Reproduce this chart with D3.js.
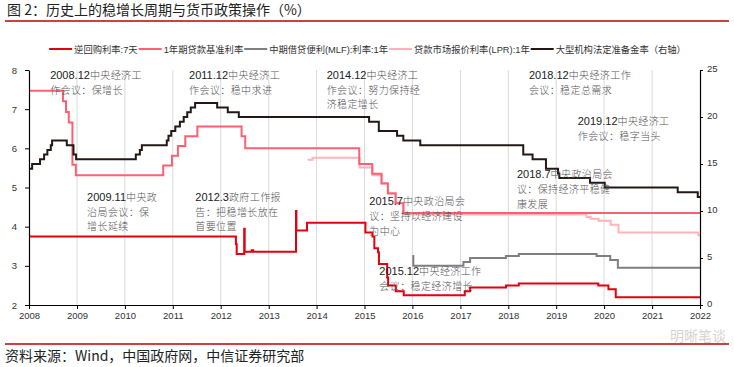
<!DOCTYPE html>
<html><head><meta charset="utf-8">
<script src="https://cdn.jsdelivr.net/npm/d3@7"></script>
<style>body{margin:0;background:#fff}svg{display:block}</style>
</head><body>
<svg id="c" width="734" height="367"></svg>
<script>
// ---------------- data ----------------
const yearTicks = ["2008","2009","2010","2011","2012","2013","2014","2015","2016","2017","2018","2019","2020","2021","2022"];
const leftTicks = [2,3,4,5,6,7,8];
const rightTicks = [0,5,10,15,20,25];

const seriesNames = ["逆回购利率:7天","1年期贷款基准利率","中期借贷便利(MLF):利率:1年","贷款市场报价利率(LPR):1年","大型机构法定准备金率（右轴）"];

const repoDates = ["2008-01-01","2012-04-26","2012-05-02","2012-06-28","2012-07-02","2012-08-24","2012-09-05","2013-07-28","2013-07-31","2013-10-20",
  "2015-01-08","2015-03-03","2015-03-17","2015-04-14","2015-04-21","2015-06-23","2015-06-30","2015-08-27","2015-10-27",
  "2017-02-03","2017-03-16","2017-12-14","2018-03-22","2019-11-18","2020-02-03","2020-03-30","2022-01-01"];
const repoRates = [3.75,3.55,3.30,3.95,3.36,3.40,3.36,4.40,3.90,4.10,
  3.85,3.75,3.45,3.35,3.05,2.70,2.50,2.35,2.25,
  2.35,2.45,2.50,2.55,2.50,2.40,2.20,2.20];

const loanDates = ["2008-01-01","2008-09-16","2008-10-09","2008-10-30","2008-11-27","2008-12-23","2010-10-20","2010-12-26","2011-02-09","2011-04-06","2011-07-07",
  "2012-06-08","2012-07-06","2014-11-22","2015-03-01","2015-05-11","2015-06-28","2015-08-26","2015-10-24","2022-01-01"];
const loanRates = [7.47,7.20,6.93,6.66,5.58,5.31,5.56,5.81,6.06,6.31,6.56,
  6.31,6.00,5.60,5.35,5.10,4.85,4.60,4.35,4.35];

const mlfDates = ["2016-01-01","2016-01-08","2017-01-24","2017-03-16","2017-12-14","2018-03-22","2019-11-05","2020-02-17","2020-04-15","2022-01-01"];
const mlfRates = [3.25,3.00,3.10,3.20,3.25,3.30,3.25,3.15,2.95,2.95];

const lprDates = ["2013-10-25","2013-12-01","2014-11-24","2015-03-02","2015-05-11","2015-06-29","2015-08-26","2015-10-26",
  "2019-08-20","2019-09-20","2019-11-20","2020-02-20","2020-04-20","2021-12-20","2022-01-01"];
const lprRates = [5.71,5.76,5.51,5.31,5.11,4.86,4.61,4.31,
  4.25,4.20,4.15,4.05,3.85,3.78,3.78];

const rrrDates = ["2008-01-01","2008-01-25","2008-03-25","2008-04-25","2008-05-20","2008-06-15","2008-06-25","2008-10-15","2008-12-05","2008-12-25",
  "2010-03-25","2010-04-25","2010-05-10","2010-11-16","2010-11-29","2010-12-20","2011-01-20","2011-02-24","2011-03-25","2011-04-21","2011-05-18","2011-06-20",
  "2011-12-05","2012-02-24","2012-05-18","2015-02-05","2015-04-20","2015-09-06","2015-10-24","2016-03-01",
  "2018-04-25","2018-07-05","2018-10-15","2019-01-15","2019-01-25","2019-09-16","2020-01-06","2021-07-15","2021-12-15","2022-01-01"];
const rrrRates = [14.5,15.0,15.5,16.0,16.5,17.0,17.5,17.0,16.0,15.5,
  16.0,16.5,17.0,17.5,18.0,18.5,19.0,19.5,20.0,20.5,21.0,21.5,
  21.0,20.5,20.0,19.5,18.5,18.0,17.5,17.0,
  16.0,15.5,14.5,14.0,13.5,13.0,12.5,12.0,11.5,11.5];

// annotation texts, anchored in data coordinates [year fraction, left-axis value]
const noteTexts = [
  ["2008.12中央经济工","作会议：保增长"],
  ["2011.12中央经济工","作会议：稳中求进"],
  ["2014.12中央经济工","作会议：努力保持经","济稳定增长"],
  ["2018.12中央经济工作","会议：稳定总需求"],
  ["2019.12中央经济工","作会议：稳字当头"],
  ["2009.11中央政","治局会议：保","增长延续"],
  ["2012.3政府工作报","告：把稳增长放在","首要位置"],
  ["2018.7中央政治局会","议：保持经济平稳健","康发展"],
  ["2015.7中央政治局会","议：坚持以经济建设","为中心"],
  ["2015.12中央经济工作","会议：稳定经济增长"]
];
const noteAnchors = [[2008.44,7.77],[2011.34,7.77],[2014.21,7.77],[2018.43,7.77],[2019.45,6.60],
  [2009.21,4.66],[2011.47,4.66],[2018.18,5.24],[2015.10,4.55],[2015.31,2.77]];

// ---------------- chart ----------------
const svg = d3.select("#c");
const parse = d3.timeParse("%Y-%m-%d");
const L = 29, R = 700, T = 70, B = 305;
const x = d3.scaleTime().domain([parse("2008-01-01"), parse("2022-01-01")]).range([L, R]);
const yL = d3.scaleLinear().domain([2, 8]).range([B, T]);
const yR = d3.scaleLinear().domain([0, 25]).range([B, T]);
const fromYear = fy => { const y = Math.floor(fy); const s = new Date(y,0,1), e = new Date(y+1,0,1); return new Date(+s + (fy-y)*(e-s)); };

const latin = "'Liberation Sans', Arial, sans-serif";
const cjk = "'Noto Sans CJK SC', sans-serif";

// title
svg.append("text").attr("x", 7).attr("y", 15).attr("font-family", cjk).attr("font-size", 14).attr("fill", "#222")
  .text("图 2：历史上的稳增长周期与货币政策操作（%）");
svg.append("line").attr("x1", 5).attr("x2", 729).attr("y1", 21).attr("y2", 21).attr("stroke", "#c00000").attr("stroke-width", 1.3);

// grid
svg.append("g").selectAll("line").data(yearTicks.slice(1, -1)).join("line")
  .attr("x1", d => x(parse(d+"-01-01"))).attr("x2", d => x(parse(d+"-01-01")))
  .attr("y1", T).attr("y2", B).attr("stroke", "#d9d9d9").attr("stroke-width", 1);

// series
const colors = ["#e3000f", "#ff5f73", "#7f7f7f", "#ffb3bb", "#231815"];
const defs = [
  {dates: repoDates, vals: repoRates, y: yL},
  {dates: loanDates, vals: loanRates, y: yL},
  {dates: mlfDates, vals: mlfRates, y: yL},
  {dates: lprDates, vals: lprRates, y: yL},
  {dates: rrrDates, vals: rrrRates, y: yR}
];
const drawOrder = [3, 1, 2, 0, 4];
drawOrder.forEach(i => {
  const s = defs[i];
  const pts = s.dates.map((d, k) => ({date: parse(d), v: s.vals[k]}));
  const gen = d3.line().x(d => x(d.date)).y(d => s.y(d.v)).curve(d3.curveStepAfter);
  svg.append("path").datum(pts).attr("d", gen).attr("fill", "none")
    .attr("stroke", colors[i]).attr("stroke-width", 2).attr("stroke-linejoin", "miter");
});

// axes
function styleAxis(g) {
  g.selectAll("path.domain").attr("stroke", "#000").attr("stroke-width", 1.2);
  g.selectAll(".tick line").attr("stroke", "#000");
  g.selectAll("text").attr("font-family", latin).attr("font-size", 9.5).attr("fill", "#333");
}
svg.append("g").attr("transform", `translate(${L},0)`)
  .call(d3.axisLeft(yL).tickValues(leftTicks).tickFormat(d3.format("d")).tickSize(4).tickSizeOuter(0).tickPadding(8)).call(styleAxis);
svg.append("g").attr("transform", `translate(${R},0)`)
  .call(d3.axisRight(yR).tickValues(rightTicks).tickFormat(d3.format("d")).tickSize(3).tickSizeOuter(0).tickPadding(4)).call(styleAxis)
  .call(g => g.selectAll("text").attr("dy", "0.2em"));
svg.append("g").attr("transform", `translate(0,${B})`)
  .call(d3.axisBottom(x).tickValues(yearTicks.map(d => parse(d+"-01-01"))).tickFormat(d3.timeFormat("%Y")).tickSize(4).tickSizeOuter(0).tickPadding(3))
  .call(styleAxis);

// legend
const leg = svg.append("g");
let cx = 0;
seriesNames.forEach((name, i) => {
  const g = leg.append("g").attr("transform", `translate(${cx},0)`);
  g.append("line").attr("x1", 0).attr("x2", 23).attr("y1", 49).attr("y2", 49).attr("stroke", colors[i]).attr("stroke-width", 2);
  const t = g.append("text").attr("x", 25).attr("y", 52.5).attr("font-family", "'Liberation Sans', 'Noto Sans CJK SC', sans-serif")
    .attr("font-size", 9.3).attr("fill", "#333").text(name);
  cx += 25 + t.node().getComputedTextLength() + 1;
});
leg.attr("transform", `translate(${(734 - cx) / 2 + 1},0)`);

// annotations
const noteCjk = g => g.attr("font-family", cjk).attr("font-size", 10).attr("font-weight", 300).attr("letter-spacing", 0.4).attr("fill", "#555");
noteTexts.forEach((lines, i) => {
  const ax = x(fromYear(noteAnchors[i][0])), ay = yL(noteAnchors[i][1]);
  lines.forEach((ln, k) => {
    const t = svg.append("text").attr("x", ax).attr("y", ay + k * 14.7);
    const m = ln.match(/^([\d.]+)(.*)$/);
    if (m) {
      t.append("tspan").attr("font-family", latin).attr("font-size", 11).attr("fill", "#222").text(m[1]);
      t.append("tspan").call(noteCjk).text(m[2]);
    } else {
      t.append("tspan").call(noteCjk).text(ln);
    }
  });
});

// watermark + footer
svg.append("text").attr("x", 670).attr("y", 341).attr("font-family", cjk).attr("font-size", 14).attr("fill", "#d4d4d4").text("明晰笔谈");
svg.append("line").attr("x1", 5).attr("x2", 729).attr("y1", 344).attr("y2", 344).attr("stroke", "#c00000").attr("stroke-width", 1.3);
svg.append("text").attr("x", 5).attr("y", 361).attr("font-family", cjk).attr("font-size", 14).attr("fill", "#222")
  .text("资料来源：Wind，中国政府网，中信证券研究部");
</script>
</body></html>
